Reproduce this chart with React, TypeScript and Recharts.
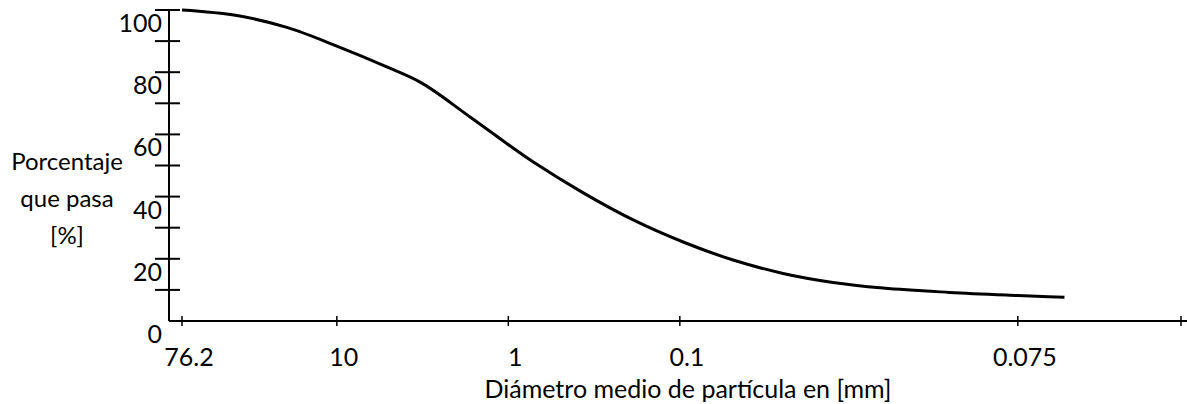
import React from "react";
import { LineChart, Line, XAxis, YAxis, Label } from "recharts";

// position along the sheet (tick spacing as drawn), diameter labels below
const xTickPos = [0, 0.93, 1.96, 2.99, 5.02, 6];
const xTickLabels = ["76.2", "10", "1", "0.1", "0.075", ""];
const yTicks = [0, 10, 20, 30, 40, 50, 60, 70, 80, 90, 100];
const yTickLabels = [0, 20, 40, 60, 80, 100];

// curve
const curveX = [0, 0.33, 0.63, 0.93, 1.23, 1.43, 1.73, 2.11, 2.41, 2.71, 3.01, 3.31, 3.61, 3.91, 4.21, 4.61, 5.02, 5.3];
const passing = [100, 98.2, 94.4, 88.4, 81.7, 76.8, 65.6, 51.1, 41.2, 32.5, 25.4, 19.6, 15.3, 12.4, 10.6, 9.2, 8.2, 7.6];

const data = curveX.map((x, i) => ({ x, pct: passing[i] }));

const FONT = "Lato, 'Open Sans', sans-serif";

const YTick = (props: any) => {
  const { x, y, payload } = props;
  const v = payload.value;
  return (
    <g>
      {v > 0 && <line x1={x - 14} x2={x + 11} y1={y} y2={y} stroke="#000" strokeWidth={2} />}
      {yTickLabels.includes(v) && (
        <text x={x - 7} y={y + 22} textAnchor="end" fontFamily={FONT} fontSize={25} fill="#000">
          {v}
        </text>
      )}
    </g>
  );
};

const XTick = (props: any) => {
  const { x, y, index } = props;
  return (
    <g>
      <line x1={x} x2={x} y1={y - 5} y2={y + 5} stroke="#000" strokeWidth={1.5} />
      <text x={x + 7} y={y + 45} textAnchor="middle" fontFamily={FONT} fontSize={25} fill="#000">
        {xTickLabels[index]}
      </text>
    </g>
  );
};

export default function App() {
  return (
    <div style={{ position: "absolute", left: 0, top: 0, background: "#fff" }}>
      <LineChart width={1187} height={404} data={data} margin={{ top: 10, right: 0, bottom: 0, left: 100 }}>
        <XAxis
          dataKey="x"
          type="number"
          domain={[-0.078, 6.036]}
          ticks={xTickPos}
          interval={0}
          allowDataOverflow
          height={83}
          tickSize={0}
          tickMargin={0}
          tickLine={false}
          axisLine={{ stroke: "#000", strokeWidth: 2 }}
          tick={<XTick />}
        >
          <Label
            content={() => (
              <text x={688} y={398} textAnchor="middle" fontFamily={FONT} fontSize={25} fill="#000">
                Diámetro medio de partícula en [mm]
              </text>
            )}
          />
        </XAxis>
        <YAxis
          type="number"
          domain={[0, 100]}
          ticks={yTicks}
          interval={0}
          width={69}
          tickSize={0}
          tickMargin={0}
          tickLine={false}
          axisLine={{ stroke: "#000", strokeWidth: 2 }}
          tick={<YTick />}
        >
          <Label
            content={() => (
              <text textAnchor="middle" fontFamily={FONT} fontSize={24} fill="#000">
                <tspan x={67} y={170}>Porcentaje</tspan>
                <tspan x={67} y={207}>que pasa</tspan>
                <tspan x={67} y={244}>[%]</tspan>
              </text>
            )}
          />
        </YAxis>
        <Line
          dataKey="pct"
          type="monotone"
          stroke="#000"
          strokeWidth={3}
          dot={false}
          activeDot={false}
          isAnimationActive={false}
        />
      </LineChart>
    </div>
  );
}
